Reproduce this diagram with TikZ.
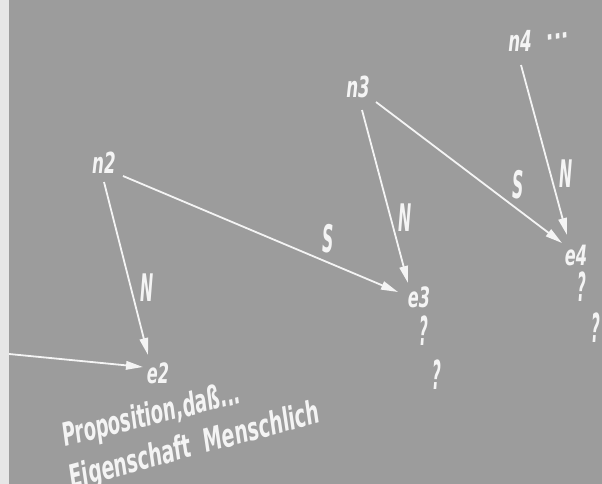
\documentclass[tikz,border=0pt]{standalone}
\usepackage{fontspec}
\usepackage{graphicx}
\usetikzlibrary{arrows.meta}
\newfontfamily\hand{DejaVu Sans Condensed}
\definecolor{bggray}{HTML}{9C9C9C}
\definecolor{strip}{HTML}{E6E6E6}
\definecolor{chalk}{HTML}{F4F4F4}
\newcommand\hsq[2]{\scalebox{#1}[1]{#2}}
\begin{document}
\begin{tikzpicture}[x=1pt,y=-1pt,
  txt/.style={text=chalk, inner sep=0pt, font=\hand\bfseries\itshape\fontsize{#1}{#1}\selectfont},
  nlab/.style={txt=29},
  elab/.style={txt=28},
  rel/.style={txt=38},
  qm/.style={txt=40},
  note/.style={txt=32},
  arr/.style={draw=chalk, line width=1.8pt, -{Triangle[length=17pt,width=8.5pt]}}]
\useasboundingbox (0,0) rectangle (602,484);
\fill[bggray] (0,0) rectangle (602,484);
\fill[strip] (0,0) rectangle (9,484);

% nodes
\node[nlab] (n2) at (104,163) {\hsq{0.64}{n2}};
\node[nlab] (n3) at (358,87) {\hsq{0.64}{n3}};
\node[nlab] (n4) at (520,41) {\hsq{0.64}{n4}};
\node[txt=28, anchor=base, rotate=10] (dots) at (559,39) {\hsq{0.8}{...}};
\node[elab] (e2) at (158,373) {\hsq{0.64}{e2}};
\node[elab] (e3) at (419,297) {\hsq{0.64}{e3}};
\node[elab] (e4) at (576,255) {\hsq{0.64}{e4}};
\node[qm] (q1) at (424,331) {\hsq{0.42}{?}};
\node[qm] (q2) at (437,375) {\hsq{0.42}{?}};
\node[qm] (q3) at (582,287) {\hsq{0.42}{?}};
\node[qm] (q4) at (596,328) {\hsq{0.42}{?}};
\node[note, anchor=base west, rotate=14] (prop) at (65,447) {\hsq{0.63}{Proposition,daß...}};
\node[note, anchor=base west, rotate=15] (eig) at (72,489) {\hsq{0.66}{Eigenschaft\ \ Menschlich}};
\coordinate (in) at (9,354);

% connectors
\draw[arr] ([shift={(0,19)}]n2.center) -- node[rel, pos=0.61, xshift=16pt] {\hsq{0.46}{N}} ([shift={(-10,-18)}]e2.center);
\draw[arr] ([shift={(19,13)}]n2.center) -- node[rel, pos=0.745, yshift=24pt] {\hsq{0.46}{S}} ([shift={(-21,-5)}]e3.center);
\draw[arr] (in) -- ([shift={(-15,-6)}]e2.center);
\draw[arr] ([shift={(4,23)}]n3.center) -- node[rel, pos=0.62, xshift=15pt] {\hsq{0.46}{N}} ([shift={(-11,-14)}]e3.center);
\draw[arr] ([shift={(18,15)}]n3.center) -- node[rel, pos=0.763, yshift=25pt] {\hsq{0.46}{S}} ([shift={(-14,-12)}]e4.center);
\draw[arr] ([shift={(1,24)}]n4.center) -- node[rel, pos=0.64, xshift=16pt] {\hsq{0.46}{N}} ([shift={(-9,-20)}]e4.center);
\end{tikzpicture}
\end{document}
